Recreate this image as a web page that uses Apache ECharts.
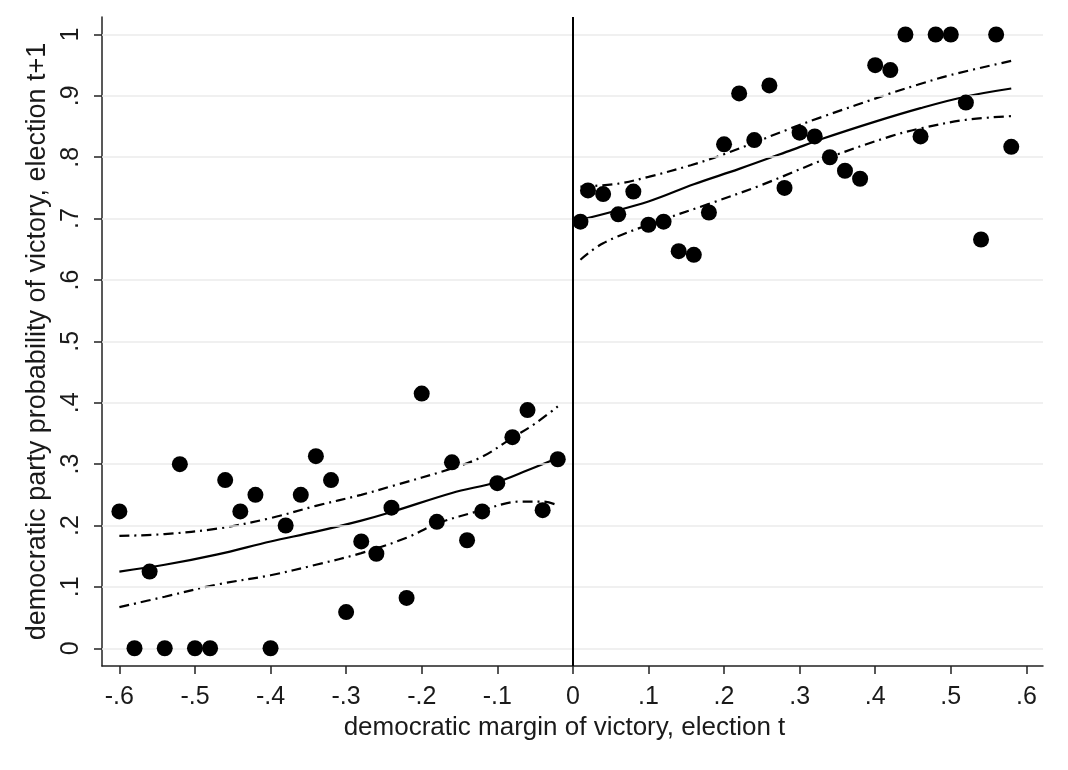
<!DOCTYPE html>
<html>
<head>
<meta charset="utf-8">
<script src="https://cdn.jsdelivr.net/npm/echarts@6/dist/echarts.min.js"></script>
<style>
  html, body { margin: 0; padding: 0; background: #ffffff; }
  #chart { width: 1068px; height: 770px; }
</style>
</head>
<body>
<div id="chart"></div>
<script>
// ---------- data ----------
const leftX = [-0.60, -0.58, -0.56, -0.54, -0.52, -0.50, -0.48, -0.46, -0.44, -0.42,
               -0.40, -0.38, -0.36, -0.34, -0.32, -0.30, -0.28, -0.26, -0.24, -0.22,
               -0.20, -0.18, -0.16, -0.14, -0.12, -0.10, -0.08, -0.06, -0.04, -0.02];
const leftY = [0.223, 0.000, 0.125, 0.000, 0.300, 0.000, 0.000, 0.274, 0.223, 0.250,
               0.000, 0.200, 0.250, 0.313, 0.274, 0.059, 0.174, 0.154, 0.229, 0.082,
               0.415, 0.206, 0.303, 0.176, 0.223, 0.269, 0.344, 0.388, 0.225, 0.308];
const rightX = [0.01, 0.02, 0.04, 0.06, 0.08, 0.10, 0.12, 0.14, 0.16, 0.18,
                0.20, 0.22, 0.24, 0.26, 0.28, 0.30, 0.32, 0.34, 0.36, 0.38,
                0.40, 0.42, 0.44, 0.46, 0.48, 0.50, 0.52, 0.54, 0.56, 0.58];
const rightY = [0.695, 0.746, 0.740, 0.707, 0.744, 0.690, 0.695, 0.647, 0.641, 0.710,
                0.821, 0.904, 0.828, 0.917, 0.750, 0.840, 0.834, 0.800, 0.778, 0.765,
                0.950, 0.942, 1.000, 0.834, 1.000, 1.000, 0.889, 0.666, 1.000, 0.817];

// fitted curves
const fitLeftX   = [-0.60, -0.54, -0.47, -0.40, -0.34, -0.28, -0.24, -0.16, -0.10, -0.06, -0.02];
const fitLeftY   = [0.125, 0.136, 0.153, 0.174, 0.190, 0.208, 0.222, 0.253, 0.271, 0.290, 0.310];
const upLeftX    = [-0.60, -0.54, -0.47, -0.40, -0.34, -0.28, -0.24, -0.16, -0.12, -0.08, -0.05, -0.02];
const upLeftY    = [0.183, 0.186, 0.195, 0.212, 0.232, 0.250, 0.264, 0.293, 0.312, 0.343, 0.366, 0.394];
const loLeftX    = [-0.60, -0.54, -0.47, -0.40, -0.34, -0.28, -0.22, -0.18, -0.12, -0.07, -0.04, -0.02];
const loLeftY    = [0.067, 0.084, 0.104, 0.119, 0.136, 0.155, 0.180, 0.203, 0.225, 0.239, 0.239, 0.233];

const fitRightX  = [0.01, 0.10, 0.16, 0.22, 0.29, 0.33, 0.40, 0.46, 0.52, 0.58];
const fitRightY  = [0.698, 0.728, 0.756, 0.781, 0.812, 0.830, 0.858, 0.880, 0.899, 0.912];
const upRightX   = [0.01, 0.06, 0.10, 0.156, 0.20, 0.288, 0.328, 0.42, 0.456, 0.50, 0.58];
const upRightY   = [0.752, 0.757, 0.768, 0.787, 0.805, 0.847, 0.865, 0.904, 0.918, 0.934, 0.957];
const loRightX   = [0.01, 0.04, 0.10, 0.18, 0.25, 0.34, 0.42, 0.46, 0.52, 0.58];
const loRightY   = [0.633, 0.660, 0.690, 0.724, 0.755, 0.800, 0.834, 0.847, 0.861, 0.867];

// ticks
const xTicks = [-0.6, -0.5, -0.4, -0.3, -0.2, -0.1, 0, 0.1, 0.2, 0.3, 0.4, 0.5, 0.6];
const xTickLabels = ['-.6', '-.5', '-.4', '-.3', '-.2', '-.1', '0', '.1', '.2', '.3', '.4', '.5', '.6'];
const yTicks = [0, 0.1, 0.2, 0.3, 0.4, 0.5, 0.6, 0.7, 0.8, 0.9, 1];
const yTickLabels = ['0', '.1', '.2', '.3', '.4', '.5', '.6', '.7', '.8', '.9', '1'];

const xTitle = 'democratic margin of victory, election t';
const yTitle = 'democratic party probability of victory, election t+1';

// ---------- chart ----------
const zip = (xs, ys) => xs.map((x, i) => [x, ys[i]]);
const lookup = (ticks, labels) => v => {
  for (let i = 0; i < ticks.length; i++) if (Math.abs(ticks[i] - v) < 1e-6) return labels[i];
  return '';
};

const FONT = '"Liberation Sans", Arial, Helvetica, sans-serif';
const TXT = '#1a1a1a';
const dashDot = [10, 5, 2, 5];

const lineSeries = (xs, ys, dashed) => ({
  type: 'line',
  data: zip(xs, ys),
  smooth: 0.35,
  showSymbol: false,
  symbol: 'none',
  silent: true,
  z: 3,
  lineStyle: { color: '#000', width: 2.2, type: dashed ? dashDot : 'solid', opacity: 1 }
});

const chart = echarts.init(document.getElementById('chart'), null, { renderer: 'canvas' });
chart.setOption({
  animation: false,
  backgroundColor: '#ffffff',
  grid: { left: 102, right: 25, top: 17, bottom: 104, containLabel: false },
  xAxis: {
    type: 'value',
    min: -0.623, max: 0.622,
    name: xTitle,
    nameLocation: 'middle',
    nameGap: 41,
    nameTextStyle: { fontFamily: FONT, fontSize: 26, color: TXT, padding: [0, 16, 0, 0] },
    axisLine: { show: true, onZero: false, lineStyle: { color: '#222', width: 1.5 } },
    axisTick: { show: true, inside: false, length: 8, customValues: xTicks, lineStyle: { color: '#222', width: 1.5 } },
    axisLabel: { customValues: xTicks, formatter: lookup(xTicks, xTickLabels), margin: 19,
                 fontFamily: FONT, fontSize: 25, color: TXT },
    splitLine: { show: false }
  },
  yAxis: {
    type: 'value',
    min: -0.0289, max: 1.0285,
    name: yTitle,
    nameLocation: 'middle',
    nameGap: 41,
    nameRotate: 90,
    nameTextStyle: { fontFamily: FONT, fontSize: 27, color: TXT },
    axisLine: { show: true, onZero: false, lineStyle: { color: '#222', width: 1.5 } },
    axisTick: { show: true, inside: false, length: 8, customValues: yTicks, lineStyle: { color: '#222', width: 1.5 } },
    axisLabel: { customValues: yTicks, formatter: lookup(yTicks, yTickLabels), rotate: 90, margin: 18,
                 fontFamily: FONT, fontSize: 25, color: TXT },
    splitLine: { show: false }
  },
  series: [
    {
      type: 'line', data: [], silent: true, z: 0,
      markLine: {
        silent: true, symbol: 'none', animation: false,
        label: { show: false },
        lineStyle: { color: '#ebebeb', width: 1.5, type: 'solid', opacity: 1 },
        data: yTicks.map(v => ({ yAxis: v }))
      }
    },
    {
      type: 'line', data: [], silent: true, z: 2,
      markLine: {
        silent: true, symbol: 'none', animation: false,
        label: { show: false },
        lineStyle: { color: '#000', width: 2, type: 'solid', opacity: 1 },
        data: [{ xAxis: 0 }]
      }
    },
    lineSeries(fitLeftX, fitLeftY, false),
    lineSeries(upLeftX, upLeftY, true),
    lineSeries(loLeftX, loLeftY, true),
    lineSeries(fitRightX, fitRightY, false),
    lineSeries(upRightX, upRightY, true),
    lineSeries(loRightX, loRightY, true),
    {
      type: 'scatter', data: zip(leftX, leftY), symbol: 'circle', symbolSize: 16, z: 5,
      itemStyle: { color: '#000', opacity: 1 }
    },
    {
      type: 'scatter', data: zip(rightX, rightY), symbol: 'circle', symbolSize: 16, z: 5,
      itemStyle: { color: '#000', opacity: 1 }
    }
  ]
});
</script>
</body>
</html>
